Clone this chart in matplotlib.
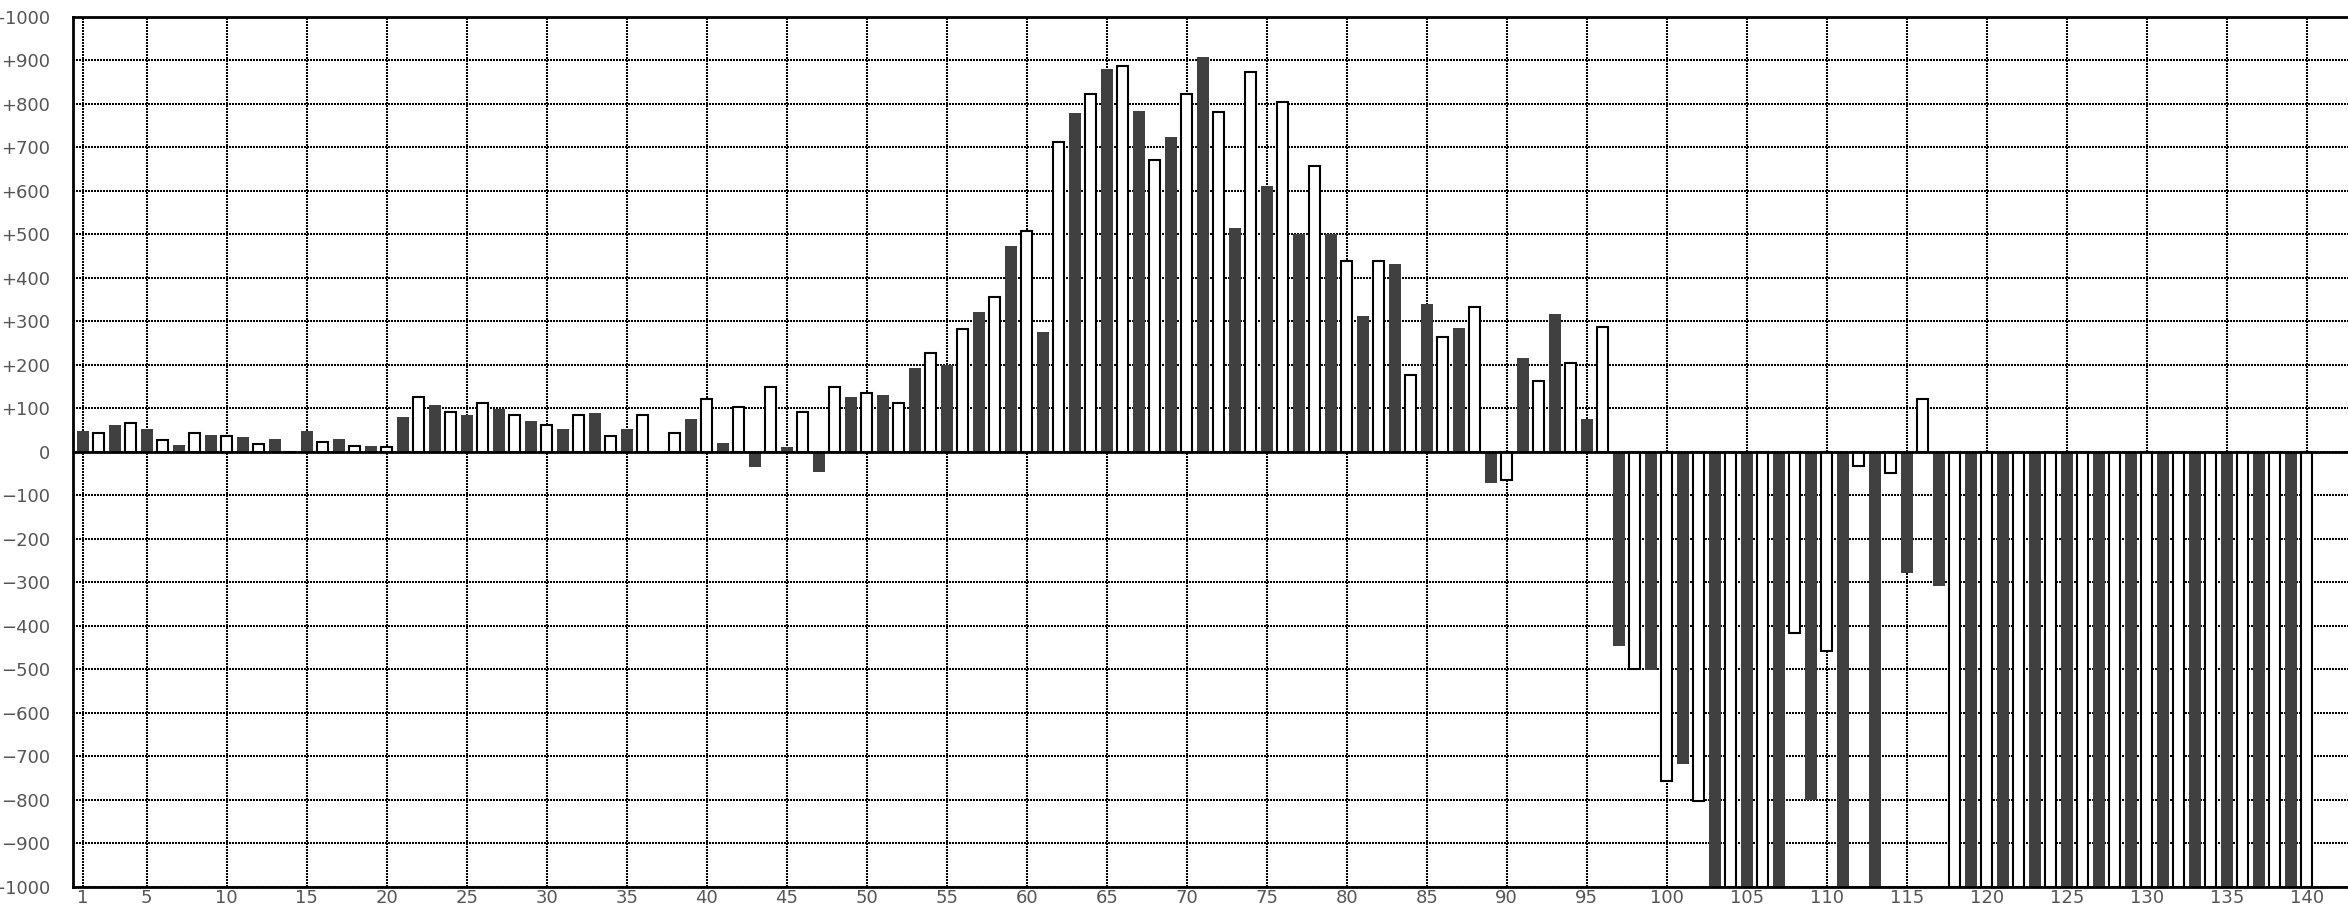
import matplotlib
matplotlib.use("Agg")
import matplotlib.pyplot as plt
import numpy as np

# ---- data ----
positions = list(range(1, 141))
values = [
    48, 42, 62, 65, 52, 27, 15, 42, 38, 37,
    34, 18, 29, 0, 48, 23, 29, 14, 14, 10,
    80, 125, 108, 92, 85, 111, 99, 83, 71, 60,
    52, 83, 89, 37, 52, 83, 0, 42, 75, 120,
    20, 102, -35, 148, 11, 92, -48, 148, 126, 134,
    131, 111, 191, 226, 200, 282, 320, 356, 473, 508,
    274, 711, 778, 822, 879, 887, 782, 670, 722, 822,
    907, 781, 514, 873, 611, 804, 500, 656, 500, 439,
    311, 439, 431, 176, 339, 263, 283, 333, -72, -65,
    214, 162, 316, 203, 75, 286, -447, -500, -502, -758,
    -717, -804, -1000, -1000, -1000, -1000, -1000, -418, -800, -459,
    -1000, -33, -1000, -50, -278, 120, -310, -1000, -1000, -1000,
    -1000, -1000, -1000, -1000, -1000, -1000, -1000, -1000, -1000, -1000,
    -1000, -1000, -1000, -1000, -1000, -1000, -1000, -1000, -1000, -1000,
]
x_ticks = [1] + list(range(5, 141, 5))
y_ticks = list(range(-1000, 1001, 100))
y_labels = [("+%d" % v) if v > 0 else ("0" if v == 0 else "\u2212%d" % -v) for v in y_ticks]

# ---- figure ----
W, H = 2348, 908
fig = plt.figure(figsize=(W / 100, H / 100), dpi=100)
ax = fig.add_axes([72.7 / W, (H - 886.7) / H, 1 - 72.7 / W + 0.01, (886.7 - 16.5) / H])

dark = "#404040"
for p, v in zip(positions, values):
    if p % 2 == 1:
        ax.bar(p, v, width=0.73, color=dark, edgecolor="none", zorder=2)
    else:
        ax.bar(p, v, width=0.68, facecolor="white", edgecolor="black", linewidth=1.5, zorder=2)

ax.axhline(0, color="black", linewidth=2.0, zorder=3)

ax.set_xlim(0.375, 142.58 + 0.01 * W / 16)
ax.set_ylim(-1000, 1000)
ax.set_xticks(x_ticks)
ax.set_xticklabels([str(t) for t in x_ticks])
ax.set_yticks(y_ticks)
ax.set_yticklabels(y_labels)

ax.set_axisbelow(True)
ax.grid(True, color="black", linestyle=(0, (1, 1)), linewidth=1.44, antialiased=False)

ax.tick_params(axis="both", length=0, labelsize=13, labelcolor="#555555")
ax.tick_params(axis="y", pad=16)
ax.tick_params(axis="x", pad=2)

for s in ["left", "top", "bottom"]:
    ax.spines[s].set_linewidth(2.0)
    ax.spines[s].set_color("black")
ax.spines["right"].set_visible(False)

fig.savefig("out.png", dpi=100)
